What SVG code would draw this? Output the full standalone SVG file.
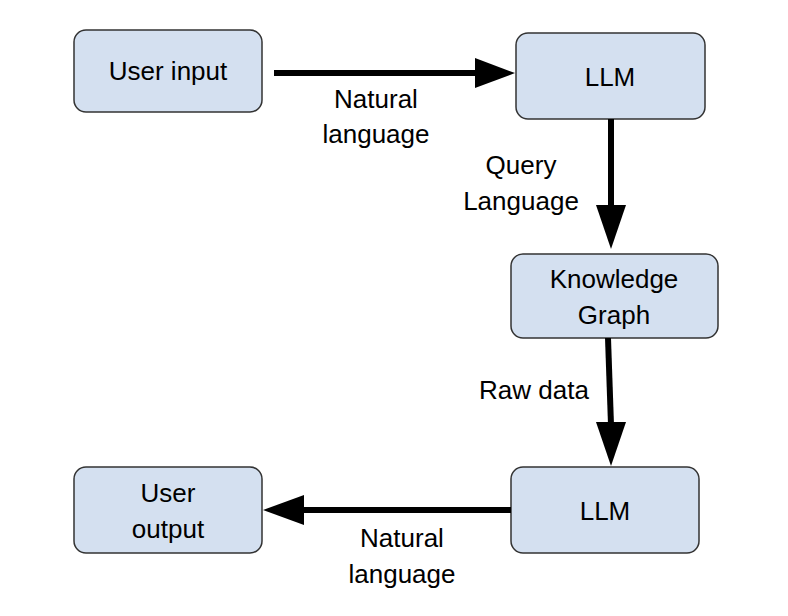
<svg xmlns="http://www.w3.org/2000/svg" width="788" height="616" viewBox="0 0 788 616">
<style>
.box{fill:#d4e0f0;stroke:#333;stroke-width:1.5}
.t{font-family:"Liberation Sans",Arial,sans-serif;font-size:26px;fill:#000;text-anchor:middle}
.c{stroke:#000;stroke-width:6;fill:none}
</style>
<defs><marker id="a" viewBox="0 0 10 10" refX="10" refY="5" markerWidth="7.3" markerHeight="5" markerUnits="userSpaceOnUse" orient="auto"><path d="M0,0L10,5L0,10z"/></marker></defs>
<rect width="788" height="616" fill="#fff"/>
<g id="user-input"><rect class="box" x="74" y="30" width="188" height="82" rx="12"/><text class="t" x="168" y="80">User input</text></g>
<g id="llm1"><rect class="box" x="516" y="33" width="189" height="86" rx="12"/><text class="t" x="610" y="86">LLM</text></g>
<g id="kg"><rect class="box" x="511" y="254" width="207" height="84" rx="12"/><text class="t" x="614" y="288">Knowledge</text><text class="t" x="614" y="324">Graph</text></g>
<g id="llm2"><rect class="box" x="511" y="467" width="188" height="86" rx="12"/><text class="t" x="605" y="520">LLM</text></g>
<g id="user-output"><rect class="box" x="74" y="467" width="188" height="86" rx="12"/><text class="t" x="168" y="502">User</text><text class="t" x="168" y="538">output</text></g>
<g id="connectors">
<path d="M274,73H477" class="c"/><path d="M475,58L515,73L475,88z"/>
<path d="M611,119V208" class="c"/><path d="M596,205L611,249L626,205z"/>
<path d="M608,338L611,425" class="c"/><path d="M596,422L611,466L626,422z"/>
<path d="M511,510H300" class="c"/><path d="M304,495L263,510L304,525z"/>
<text class="t" x="376" y="108">Natural</text><text class="t" x="376" y="143">language</text>
<text class="t" x="521" y="174">Query</text><text class="t" x="521" y="210">Language</text>
<text class="t" x="534" y="399">Raw data</text>
<text class="t" x="402" y="547">Natural</text><text class="t" x="402" y="583">language</text>
</g>
</svg>
